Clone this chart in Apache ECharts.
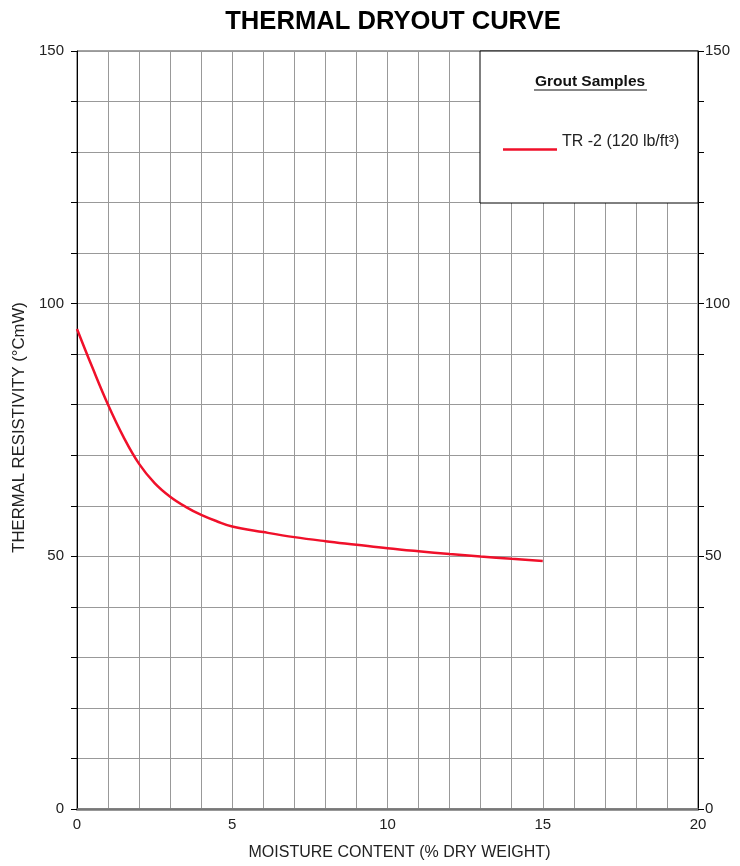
<!DOCTYPE html>
<html>
<head>
<meta charset="utf-8">
<script src="https://cdn.jsdelivr.net/npm/echarts@6/dist/echarts.min.js"></script>
<style>html,body{margin:0;padding:0;background:#fff;}#c{width:740px;height:866px;}</style>
</head>
<body>
<div id="c"></div>
<script>
const moisture = [0, 0.5, 1, 1.5, 2, 2.5, 3, 3.5, 4, 4.5, 5, 6, 7, 8, 9, 10, 11, 12, 13, 14, 15];
const resistivity = [95, 87.3, 80, 73.6, 68.3, 64.5, 61.8, 59.8, 58.2, 56.95, 55.9, 54.8, 53.8, 53.0, 52.3, 51.6, 51.0, 50.45, 49.95, 49.5, 49.1];
const seriesName = 'TR -2 (120 lb/ft³)';
const yLabels = [0, 50, 100, 150];
const xLabels = [0, 5, 10, 15, 20];

const FONT = '"Liberation Sans", Arial, sans-serif';
const chart = echarts.init(document.getElementById('c'), null, {renderer: 'canvas'});
const data = moisture.map((x, i) => [x, resistivity[i]]);

const yAxisBase = {
  type: 'value', min: 0, max: 150, interval: 10,
  axisLine: {show: true, lineStyle: {color: '#000', width: 1}},
  axisTick: {show: true, length: 6, lineStyle: {color: '#000'}},
  axisLabel: {
    fontFamily: FONT, fontSize: 15, color: '#222',
    formatter: v => yLabels.includes(v) ? String(v) : ''
  }
};

chart.setOption({
  animation: false,
  backgroundColor: '#fff',
  title: {
    text: 'THERMAL DRYOUT CURVE',
    left: 388, top: 4, textAlign: 'center',
    textStyle: {fontFamily: FONT, fontSize: 25.6, fontWeight: 'bold', color: '#000'}
  },
  grid: {left: 77, right: 42, top: 51, bottom: 55, show: true, borderColor: '#444', borderWidth: 1, containLabel: false},
  xAxis: {
    type: 'value', min: 0, max: 20, interval: 1,
    name: 'MOISTURE CONTENT (% DRY WEIGHT)', nameLocation: 'middle', nameGap: 36,
    nameTextStyle: {fontFamily: FONT, fontSize: 16, color: '#222', padding: [0, 0, 0, 24]},
    axisLine: {show: true, onZero: false, lineStyle: {color: '#777', width: 2.5}},
    axisTick: {show: false},
    axisLabel: {fontFamily: FONT, fontSize: 15, color: '#222', margin: 8,
      formatter: v => xLabels.includes(v) ? String(v) : ''},
    splitLine: {show: true, lineStyle: {color: '#999', width: 1}}
  },
  yAxis: [
    Object.assign({}, yAxisBase, {
      position: 'left',
      axisLabel: Object.assign({}, yAxisBase.axisLabel, {margin: 13}),
      name: 'THERMAL RESISTIVITY (°CmW)', nameLocation: 'middle', nameGap: 48,
      nameTextStyle: {fontFamily: FONT, fontSize: 16.7, color: '#222', padding: [0, 0, 0, 5]},
      splitLine: {show: true, lineStyle: {color: '#999', width: 1}}
    }),
    Object.assign({}, yAxisBase, {
      position: 'right',
      axisLabel: Object.assign({}, yAxisBase.axisLabel, {margin: 7}),
      splitLine: {show: false}
    })
  ],
  legend: {
    show: true, z: 20,
    left: 498, top: 128,
    icon: 'path://M0,0L55,0ZM0,15.5L55,15.5L55,18L0,18Z', itemWidth: 54, itemHeight: 18,
    itemStyle: {borderWidth: 0},
    textStyle: {fontFamily: FONT, fontSize: 16, color: '#222'},
    data: [seriesName]
  },
  graphic: [
    {type: 'rect', z: 10, shape: {x: 480, y: 51, width: 218, height: 152},
     style: {fill: '#fff', stroke: '#000', lineWidth: 1}},
    {type: 'text', z: 11, x: 590, y: 74,
     style: {text: 'Grout Samples', fontFamily: FONT, fontSize: 15.5, fontWeight: 'bold', fill: '#111', align: 'center'}},
    {type: 'line', z: 11, shape: {x1: 534, y1: 90, x2: 647, y2: 90}, style: {stroke: '#111', lineWidth: 1.2}}
  ],
  series: [{
    name: seriesName, type: 'line', yAxisIndex: 0,
    data: data, smooth: 0.4, symbol: 'none',
    lineStyle: {color: '#f0102a', width: 2.5},
    itemStyle: {color: '#f0102a'}
  }]
});
</script>
</body>
</html>
